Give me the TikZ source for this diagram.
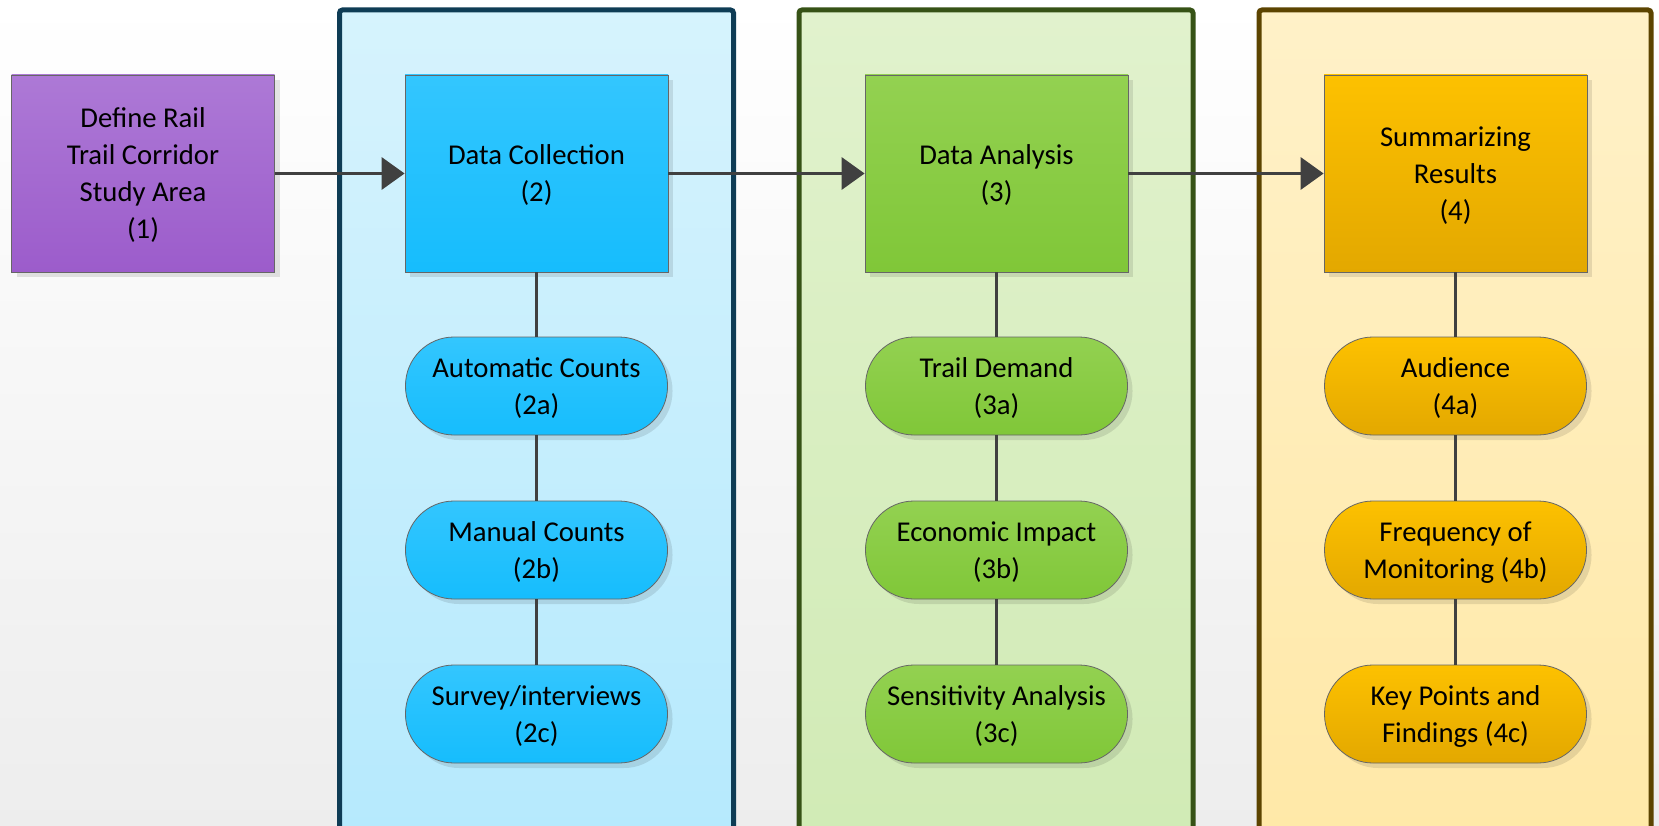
\documentclass[tikz,border=0pt]{standalone}
\usepackage{fontspec}
\setmainfont{Carlito}
\usetikzlibrary{arrows.meta,shadows}

\definecolor{lineg}{HTML}{404040}
\definecolor{purpT}{HTML}{AD79D6}
\definecolor{purpB}{HTML}{9C5CCB}
\definecolor{blueT}{HTML}{33C6FE}
\definecolor{blueB}{HTML}{16BDFD}
\definecolor{grnT}{HTML}{93D151}
\definecolor{grnB}{HTML}{80C738}
\definecolor{orgT}{HTML}{FDC100}
\definecolor{orgB}{HTML}{E3A800}
\definecolor{bluePT}{HTML}{D6F3FD}
\definecolor{bluePB}{HTML}{B4E9FD}
\definecolor{bluePD}{HTML}{0E3C55}
\definecolor{grnPT}{HTML}{E1F2CD}
\definecolor{grnPB}{HTML}{D0EAB4}
\definecolor{grnPD}{HTML}{365216}
\definecolor{orgPT}{HTML}{FFF1C8}
\definecolor{orgPB}{HTML}{FFE8A6}
\definecolor{orgPD}{HTML}{5C4400}

\tikzset{
  stage/.style={rectangle, draw=black!60, line width=0.8pt, minimum width=263pt,
    minimum height=197pt, inner sep=0pt, align=center,
    font=\fontsize{28.7}{37}\selectfont, text depth=-1pt,
    drop shadow={shadow xshift=5pt, shadow yshift=-5pt, fill=black, opacity=0.1}},
  task/.style={stage, rounded corners=48.5pt, minimum width=262pt, minimum height=98pt},
  panel/.style={line width=5pt, rounded corners=3pt},
  conn/.style={draw=lineg, line width=3.5pt},
  flow/.style={conn, -{Triangle[length=23pt, width=32pt]}}
}

\begin{document}
\begin{tikzpicture}[x=1pt, y=-1pt]
\clip (0,0) rectangle (1659,826);
\shade[top color=white, bottom color=black!7] (0,0) rectangle (1659,826);

% phase panels
\draw[panel, draw=bluePD, top color=bluePT, bottom color=bluePB] (339.5,10) rectangle (733.5,880);
\draw[panel, draw=grnPD, top color=grnPT, bottom color=grnPB] (799,10) rectangle (1193,880);
\draw[panel, draw=orgPD, top color=orgPT, bottom color=orgPB] (1259,10) rectangle (1651,880);

\node[stage, top color=purpT, bottom color=purpB] (1) at (143,173.5) {Define Rail\\Trail Corridor\\Study Area\\(1)};
\node[stage, top color=blueT, bottom color=blueB] (2) at (536.5,173.5) {Data Collection\\(2)};
\node[stage, top color=grnT, bottom color=grnB] (3) at (996.5,173.5) {Data Analysis\\(3)};
\node[stage, top color=orgT, bottom color=orgB] (4) at (1455.5,173.5) {Summarizing\\Results\\(4)};

\node[task, top color=blueT, bottom color=blueB] (2a) at (536.5,386) {Automatic Counts\\(2a)};
\node[task, top color=blueT, bottom color=blueB] (2b) at (536.5,550) {Manual Counts\\(2b)};
\node[task, top color=blueT, bottom color=blueB] (2c) at (536.5,714) {Survey/interviews\\(2c)};

\node[task, top color=grnT, bottom color=grnB] (3a) at (996.5,386) {Trail Demand\\(3a)};
\node[task, top color=grnT, bottom color=grnB] (3b) at (996.5,550) {Economic Impact\\(3b)};
\node[task, top color=grnT, bottom color=grnB] (3c) at (996.5,714) {Sensitivity Analysis\\(3c)};

\node[task, top color=orgT, bottom color=orgB] (4a) at (1455.5,386) {Audience\\(4a)};
\node[task, top color=orgT, bottom color=orgB] (4b) at (1455.5,550) {Frequency of\\Monitoring (4b)};
\node[task, top color=orgT, bottom color=orgB] (4c) at (1455.5,714) {Key Points and\\Findings (4c)};

\draw[flow] (1) -- (2);
\draw[flow] (2) -- (3);
\draw[flow] (3) -- (4);

\draw[conn] (2) -- (2a);
\draw[conn] (2a) -- (2b);
\draw[conn] (2b) -- (2c);
\draw[conn] (3) -- (3a);
\draw[conn] (3a) -- (3b);
\draw[conn] (3b) -- (3c);
\draw[conn] (4) -- (4a);
\draw[conn] (4a) -- (4b);
\draw[conn] (4b) -- (4c);
\end{tikzpicture}
\end{document}
